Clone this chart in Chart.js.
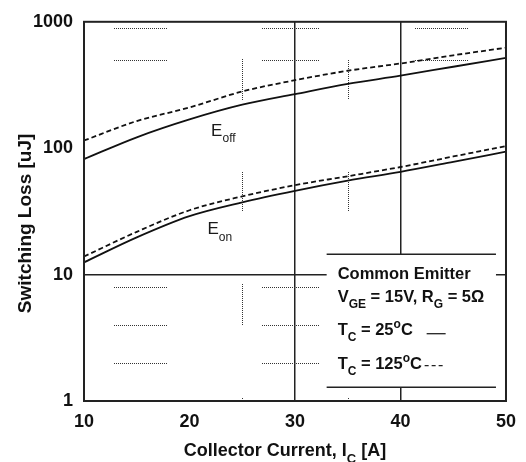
<!DOCTYPE html>
<html>
<head>
<meta charset="utf-8">
<script src="https://cdn.jsdelivr.net/npm/chart.js@4.4.1/dist/chart.umd.min.js"></script>
<style>
  html, body { margin: 0; padding: 0; background: #fff; }
  #wrap { width: 526px; height: 462px; }
</style>
</head>
<body>
<div id="wrap"><canvas id="lossChart"></canvas></div>
<script>
const current = [10, 15, 20, 25, 30, 35, 40, 45, 50]
const eoff25 = [82, 122, 169, 221, 268, 323, 375, 441, 518]
const eoff125 = [115, 164, 210, 281, 345, 410, 468, 543, 624]
const eon25 = [12.5, 19.7, 29, 37.3, 46, 55.4, 65, 78, 94]
const eon125 = [13.9, 21.8, 32.3, 41.6, 51, 60, 71, 86, 104]

const xTicks = [10, 20, 30, 40, 50]
const yTicks = [1, 10, 100, 1000]
const xGrid = [30, 40]
const yGrid = [10]

// dotted guide marks: rows are [x1, x2, y], columns are [x, y1, y2]
const dotRows = [
  [12.8, 17.9, 900], [26.9, 32.3, 900], [41.4, 46.4, 900],
  [12.8, 17.9, 500], [26.9, 32.3, 500], [41.4, 46.4, 500],
  [12.8, 17.9, 8], [26.9, 32.3, 8],
  [12.8, 17.9, 4], [26.9, 32.3, 4],
  [12.8, 17.9, 2], [26.9, 32.3, 2]
]
const dotCols = [
  [25, 242, 512], [25, 32, 65], [25, 4, 8.5], [25, 1.03, 1.07],
  [35, 245, 512], [35, 32, 65], [35, 1.03, 1.07]
]

// box with test conditions, in data units
const boxX = [33.0, 49.05]
const boxY = [1.285, 14.5]

const FONT = '"Liberation Sans", Arial, Helvetica, sans-serif'

const pts = arr => current.map((c, i) => ({ x: c, y: arr[i] }))

// draws text pieces left to right, with sub/superscripts
function drawRuns(ctx, runs, x, y, size, weight) {
  ctx.textAlign = 'left'
  ctx.textBaseline = 'alphabetic'
  runs.forEach(r => {
    const small = r.sub || r.sup
    const s = small ? Math.round(size * 0.72) : size
    ctx.font = `${weight} ${s}px ${FONT}`
    const dy = r.sub ? size * 0.38 : r.sup ? -size * 0.42 : 0
    ctx.fillText(r.t, x, y + dy)
    x += ctx.measureText(r.t).width
  })
  return x
}

function runsWidth(ctx, runs, size, weight) {
  let w = 0
  runs.forEach(r => {
    const s = (r.sub || r.sup) ? Math.round(size * 0.72) : size
    ctx.font = `${weight} ${s}px ${FONT}`
    w += ctx.measureText(r.t).width
  })
  return w
}

const decor = {
  id: 'decor',
  beforeDatasetsDraw(chart) {
    const { ctx, scales: { x, y } } = chart
    ctx.save()
    ctx.strokeStyle = '#333'
    ctx.lineWidth = 1
    ctx.setLineDash([1, 1])
    ctx.beginPath()
    dotRows.forEach(([a, b, v]) => {
      const py = Math.round(y.getPixelForValue(v)) + 0.5
      ctx.moveTo(Math.round(x.getPixelForValue(a)), py)
      ctx.lineTo(Math.round(x.getPixelForValue(b)), py)
    })
    dotCols.forEach(([v, a, b]) => {
      const px = Math.round(x.getPixelForValue(v)) + 0.5
      ctx.moveTo(px, Math.round(y.getPixelForValue(a)))
      ctx.lineTo(px, Math.round(y.getPixelForValue(b)))
    })
    ctx.stroke()
    ctx.restore()
  },
  afterDatasetsDraw(chart) {
    const { ctx, scales: { x, y } } = chart
    ctx.save()
    // conditions box
    const l = x.getPixelForValue(boxX[0])
    const r = x.getPixelForValue(boxX[1])
    const t = y.getPixelForValue(boxY[1])
    const b = y.getPixelForValue(boxY[0])
    ctx.fillStyle = '#fff'
    ctx.fillRect(l, t, r - l, b - t)
    ctx.strokeStyle = '#222'
    ctx.lineWidth = 1.5
    ctx.beginPath()
    ctx.moveTo(l, t); ctx.lineTo(r, t)
    ctx.moveTo(l, b); ctx.lineTo(r, b)
    ctx.stroke()

    ctx.fillStyle = '#111'
    const tx = l + 11
    drawRuns(ctx, [{ t: 'Common Emitter' }], tx, t + 25, 16.5, 'bold')
    drawRuns(ctx, [{ t: 'V' }, { t: 'GE', sub: true }, { t: ' = 15V, R' }, { t: 'G', sub: true }, { t: ' = 5\u03A9' }], tx, t + 48, 16.5, 'bold')
    drawRuns(ctx, [{ t: 'T' }, { t: 'C', sub: true }, { t: ' = 25' }, { t: 'o', sup: true }, { t: 'C' }], tx, t + 81, 16.5, 'bold')
    drawRuns(ctx, [{ t: 'T' }, { t: 'C', sub: true }, { t: ' = 125' }, { t: 'o', sup: true }, { t: 'C' }], tx, t + 115, 16.5, 'bold')
    ctx.lineWidth = 1.3
    ctx.beginPath()
    ctx.moveTo(l + 100, t + 79.5); ctx.lineTo(l + 119, t + 79.5)
    ctx.stroke()
    ctx.setLineDash([4, 3])
    ctx.beginPath()
    ctx.moveTo(l + 98, t + 111.5); ctx.lineTo(l + 119, t + 111.5)
    ctx.stroke()
    ctx.setLineDash([])

    // curve names
    ctx.fillStyle = '#1a1a1a'
    drawRuns(ctx, [{ t: 'E' }, { t: 'off', sub: true }], x.getPixelForValue(22.05), y.getPixelForValue(125), 17, 'normal')
    drawRuns(ctx, [{ t: 'E' }, { t: 'on', sub: true }], x.getPixelForValue(21.7), y.getPixelForValue(20.9), 17, 'normal')
    ctx.restore()
  },
  afterDraw(chart) {
    const { ctx, chartArea: a } = chart
    ctx.save()
    ctx.strokeStyle = '#222'
    ctx.lineWidth = 2
    ctx.strokeRect(a.left, a.top, a.right - a.left, a.bottom - a.top)

    ctx.fillStyle = '#111'
    const xt = [{ t: 'Collector Current, I' }, { t: 'C', sub: true }, { t: ' [A]' }]
    const w = runsWidth(ctx, xt, 18, 'bold')
    drawRuns(ctx, xt, (a.left + a.right) / 2 - 10 - w / 2, a.bottom + 55, 18, 'bold')

    ctx.translate(31, (a.top + a.bottom) / 2 + 12)
    ctx.rotate(-Math.PI / 2)
    ctx.font = `bold 19px ${FONT}`
    ctx.textAlign = 'center'
    ctx.fillText('Switching Loss [uJ]', 0, 0)
    ctx.restore()
  }
}

const tickFont = { family: FONT, size: 18, weight: 'bold' }

new Chart(document.getElementById('lossChart'), {
  type: 'line',
  data: {
    datasets: [
      { data: pts(eoff25), borderColor: '#111', borderWidth: 1.8 },
      { data: pts(eoff125), borderColor: '#111', borderWidth: 1.8, borderDash: [5, 3] },
      { data: pts(eon25), borderColor: '#111', borderWidth: 1.8 },
      { data: pts(eon125), borderColor: '#111', borderWidth: 1.8, borderDash: [5, 3] }
    ]
  },
  options: {
    responsive: true,
    maintainAspectRatio: false,
    animation: false,
    elements: { point: { radius: 0 }, line: { cubicInterpolationMode: 'monotone' } },
    layout: { padding: { top: 16, right: 18, left: 0, bottom: 0 } },
    plugins: { legend: { display: false }, tooltip: { enabled: false } },
    scales: {
      x: {
        type: 'linear', min: 10, max: 50,
        afterBuildTicks: s => { s.ticks = xTicks.map(v => ({ value: v })) },
        afterFit: s => { s.height = 61 },
        border: { display: false },
        grid: {
          drawTicks: false, lineWidth: 1.5,
          color: c => c.tick && xGrid.includes(c.tick.value) ? '#222' : 'transparent'
        },
        ticks: { padding: 10, color: '#111', font: tickFont, maxRotation: 0 }
      },
      y: {
        type: 'logarithmic', min: 1, max: 1000,
        afterBuildTicks: s => { s.ticks = yTicks.map(v => ({ value: v })) },
        afterFit: s => { s.width = 84 },
        border: { display: false },
        grid: {
          drawTicks: false, lineWidth: 1.5,
          color: c => c.tick && yGrid.includes(c.tick.value) ? '#222' : 'transparent'
        },
        ticks: { padding: 11, color: '#111', font: tickFont, callback: v => String(v) }
      }
    }
  },
  plugins: [decor]
})
</script>
</body>
</html>
